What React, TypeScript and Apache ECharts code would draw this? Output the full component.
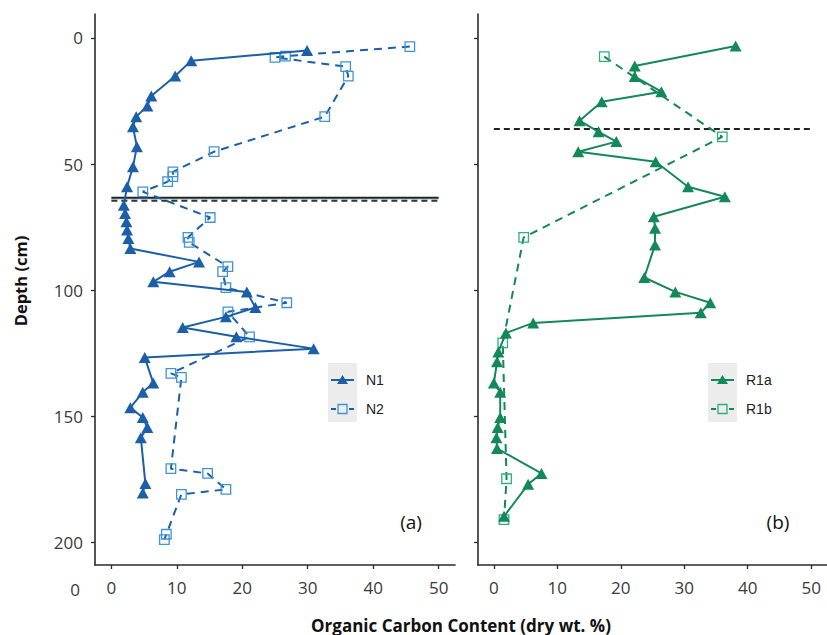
import React, { useEffect, useRef } from "react";
import * as echarts from "echarts";

// ---- data ----
const depthTicks = [0, 50, 100, 150, 200];
const carbonTicks = [0, 10, 20, 30, 40, 50];

const n1Carbon = [29.9, 12.2, 9.75, 6.1, 5.5, 3.8, 3.3, 3.9, 3.3, 2.4, 1.9, 2.1, 2.3, 2.4, 2.6, 2.9, 13.4, 8.9, 6.4, 20.7, 22.0, 17.5, 10.9, 19.1, 30.9, 5.1, 6.4, 4.8, 2.9, 4.8, 5.5, 4.5, 5.2, 4.8];
const n1Depth = [5.0, 9.0, 15.1, 23, 27, 31.2, 35.2, 43.1, 51.1, 59, 66.3, 69.6, 72.9, 76.2, 79.5, 83.5, 88.8, 92.7, 96.7, 100.7, 106.9, 110.6, 114.8, 118.5, 123.2, 126.7, 136.8, 140.5, 146.6, 150.5, 154.5, 158.5, 176.7, 180.4];

const n2Carbon = [45.6, 26.6, 25.0, 35.8, 36.2, 32.6, 15.7, 9.4, 9.4, 8.6, 4.8, 15.1, 11.7, 11.9, 17.8, 17.0, 17.5, 26.8, 17.8, 21.1, 9.1, 10.7, 9.1, 14.7, 17.5, 10.7, 8.4, 8.1];
const n2Depth = [3.4, 7.2, 7.7, 11.4, 15.1, 31.2, 45.1, 53.1, 55, 57, 61, 71.2, 79.1, 81.1, 90.7, 92.7, 99, 105, 108.6, 118.5, 133, 134.6, 170.8, 172.7, 179, 181, 196.8, 198.9];

const r1aCarbon = [38.1, 22.2, 22.2, 26.4, 17.0, 13.5, 16.5, 19.3, 13.3, 25.5, 30.6, 36.4, 25.2, 25.4, 25.4, 23.7, 28.6, 34.1, 32.6, 6.2, 1.9, 0.7, 0.5, 0.0, 1.0, 1.0, 0.6, 0.4, 0.5, 7.5, 5.4, 1.6];
const r1aDepth = [3.2, 11.1, 15.3, 21.3, 25.3, 32.8, 37.2, 41.1, 45.1, 49.1, 59, 63, 70.9, 75.5, 82.1, 95, 100.7, 105, 109, 113, 117, 124.5, 128.4, 136.8, 140.5, 150.5, 154.5, 158.5, 162.8, 172.7, 177, 189.7];

const r1bCarbon = [17.4, 36.0, 4.7, 1.4, 2.0, 1.6];
const r1bDepth = [7.4, 39.2, 79.1, 120.9, 174.8, 191];

const refSpan = [0, 50];
const leftSolidDepth = 63.4;
const leftCyanDepth = 64.0;
const leftDashedDepth = 64.6;
const rightDashedDepth = 36.1;

const BLUE = "#1b5fa9";
const BLUE_LIGHT = "#4093d4";
const GREEN = "#13895a";
const GREEN_LIGHT = "#2fae80";
const AXIS = "#2b2b2b";
const TICK_TEXT = "#3a3a3a";

const pairs = (xs: number[], ys: number[]) => xs.map((x, i) => [x, ys[i]]);
const hline = (d: number) => refSpan.map((x) => [x, d]);

export default function App() {
  const ref = useRef<HTMLDivElement>(null);
  useEffect(() => {
    if (!ref.current) return;
    const chart = echarts.init(ref.current, undefined, { renderer: "svg" });

    const xAxisBase = (gridIndex: number) => ({
      type: "value",
      gridIndex,
      min: -2.5,
      max: 52.5,
      splitLine: { show: false },
      axisLine: { show: true, onZero: false, lineStyle: { color: AXIS, width: 1.6 } },
      axisTick: { show: true, length: 4, customValues: carbonTicks, lineStyle: { color: AXIS, width: 1.3 } },
      axisLabel: { show: true, customValues: carbonTicks, margin: 14, color: TICK_TEXT, fontSize: 17, fontFamily: "Open Sans" },
    });
    const yAxisBase = (gridIndex: number, showLabels: boolean) => ({
      type: "value",
      gridIndex,
      inverse: true,
      min: -9.5,
      max: 209,
      splitLine: { show: false },
      axisLine: { show: true, onZero: false, lineStyle: { color: AXIS, width: 1.6 } },
      axisTick: { show: true, length: 4, customValues: depthTicks, lineStyle: { color: AXIS, width: 1.3 } },
      axisLabel: { show: showLabels, customValues: depthTicks, margin: 12, color: TICK_TEXT, fontSize: 17, fontFamily: "Open Sans" },
    });

    const tri = { symbol: "triangle", symbolSize: [12, 11] };
    const sq = { symbol: "rect", symbolSize: 9.5 };

    const legendItems = (x0: number, labels: string[], dark: string, light: string) => [
      { type: "rect", shape: { x: x0, y: 363, width: 29, height: 59 }, style: { fill: "#ececec" }, silent: true },
      { type: "line", shape: { x1: x0 + 3, y1: 380, x2: x0 + 26, y2: 380 }, style: { stroke: dark, lineWidth: 2 } },
      { type: "polygon", shape: { points: [[x0 + 14.5, 375], [x0 + 20, 384], [x0 + 9, 384]] }, style: { fill: dark } },
      { type: "line", shape: { x1: x0 + 3, y1: 409, x2: x0 + 8, y2: 409 }, style: { stroke: dark, lineWidth: 2 } },
      { type: "line", shape: { x1: x0 + 21, y1: 409, x2: x0 + 26, y2: 409 }, style: { stroke: dark, lineWidth: 2 } },
      { type: "rect", shape: { x: x0 + 10, y: 404.5, width: 9, height: 9 }, style: { fill: "none", stroke: light, lineWidth: 1.3 } },
      { type: "text", x: x0 + 38, y: 380, style: { text: labels[0], fill: "#222", fontSize: 14, fontFamily: "Liberation Sans", verticalAlign: "middle" } },
      { type: "text", x: x0 + 38, y: 409, style: { text: labels[1], fill: "#222", fontSize: 14, fontFamily: "Liberation Sans", verticalAlign: "middle" } },
    ];

    chart.setOption({
      animation: false,
      backgroundColor: "#ffffff",
      grid: [
        { left: 95, top: 14, width: 360, height: 551 },
        { left: 478, top: 14, width: 361, height: 551 },
      ],
      xAxis: [xAxisBase(0), xAxisBase(1)],
      yAxis: [yAxisBase(0, true), yAxisBase(1, false)],
      series: [
        { type: "line", xAxisIndex: 0, yAxisIndex: 0, data: hline(leftCyanDepth), symbol: "none", lineStyle: { color: "#bfe9f3", width: 1.5 }, z: 1 },
        { type: "line", xAxisIndex: 0, yAxisIndex: 0, data: hline(leftSolidDepth), symbol: "none", lineStyle: { color: "#222", width: 2 }, z: 1 },
        { type: "line", xAxisIndex: 0, yAxisIndex: 0, data: hline(leftDashedDepth), symbol: "none", lineStyle: { color: "#333", width: 2, type: [6, 4] }, z: 1 },
        { type: "line", xAxisIndex: 1, yAxisIndex: 1, data: hline(rightDashedDepth), symbol: "none", lineStyle: { color: "#222", width: 2, type: [6, 4] }, z: 1 },
        {
          name: "N2", type: "line", xAxisIndex: 0, yAxisIndex: 0, data: pairs(n2Carbon, n2Depth), ...sq,
          lineStyle: { color: BLUE, width: 2, type: [8, 6] },
          itemStyle: { color: "rgba(255,255,255,0)", borderColor: BLUE_LIGHT, borderWidth: 1.3 }, z: 2,
        },
        {
          name: "N1", type: "line", xAxisIndex: 0, yAxisIndex: 0, data: pairs(n1Carbon, n1Depth), ...tri,
          lineStyle: { color: BLUE, width: 2 }, itemStyle: { color: BLUE }, z: 3,
        },
        {
          name: "R1b", type: "line", xAxisIndex: 1, yAxisIndex: 1, data: pairs(r1bCarbon, r1bDepth), ...sq,
          lineStyle: { color: GREEN, width: 2, type: [8, 6] },
          itemStyle: { color: "rgba(255,255,255,0)", borderColor: GREEN_LIGHT, borderWidth: 1.3 }, z: 2,
        },
        {
          name: "R1a", type: "line", xAxisIndex: 1, yAxisIndex: 1, data: pairs(r1aCarbon, r1aDepth), ...tri,
          lineStyle: { color: GREEN, width: 2 }, itemStyle: { color: GREEN }, z: 3,
        },
      ],
      graphic: [
        ...legendItems(328, ["N1", "N2"], BLUE, BLUE_LIGHT),
        ...legendItems(708, ["R1a", "R1b"], GREEN, GREEN_LIGHT),
        { type: "text", x: 411, y: 522, style: { text: "(a)", fill: "#111", fontSize: 19, fontFamily: "Open Sans", align: "center", verticalAlign: "middle" } },
        { type: "text", x: 778, y: 522, style: { text: "(b)", fill: "#111", fontSize: 19, fontFamily: "Open Sans", align: "center", verticalAlign: "middle" } },
        { type: "text", x: 75, y: 589, style: { text: "0", fill: TICK_TEXT, fontSize: 17, fontFamily: "Open Sans", align: "center", verticalAlign: "middle" } },
        { type: "text", x: 20, y: 281, rotation: Math.PI / 2, style: { text: "Depth (cm)", fill: "#111", fontSize: 16.5, fontWeight: "bold", fontFamily: "Open Sans", align: "center", verticalAlign: "middle" } },
        { type: "text", x: 461, y: 625, style: { text: "Organic Carbon Content (dry wt. %)", fill: "#111", fontSize: 17, fontWeight: "bold", fontFamily: "Open Sans", align: "center", verticalAlign: "middle" } },
      ],
    });
    return () => chart.dispose();
  }, []);
  return <div ref={ref} style={{ position: "fixed", left: 0, top: 0, width: 827, height: 635 }} />;
}
